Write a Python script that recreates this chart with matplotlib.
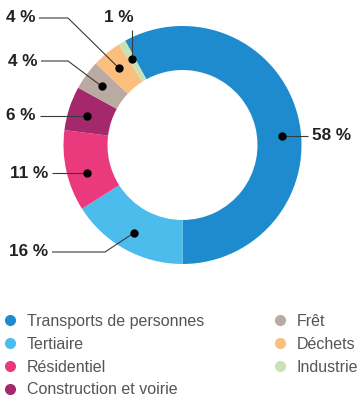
import numpy as np
import matplotlib

matplotlib.use("Agg")

from matplotlib import pyplot as plt
from matplotlib.lines import Line2D

categories = [
    "Transports de personnes",
    "Tertiaire",
    "Résidentiel",
    "Construction et voirie",
    "Frêt",
    "Déchets",
    "Industrie",
]
shares = [58, 16, 11, 6, 4, 4, 1]
pct_labels = ["58 %", "16 %", "11 %", "6 %", "4 %", "4 %", "1 %"]
colors = ["#1f8bcf", "#4bbcec", "#ea3a7d", "#a5276c", "#b9aba1", "#fbbe7d", "#c8e2b6"]

FONT = ["Liberation Sans", "DejaVu Sans"]
W, H = 360, 405
CX, CY = 182.5, 145  # donut centre in pixels, measured from the top
R_OUT, RING = 119, 44
R_DOT = 100

# leader style, line end x, line end y (pixels from top), knee x
label_layout = [
    ("h", 308, 136, None),
    ("knee", 52, 252, 105),
    ("h", 52, 173, None),
    ("h", 40, 116, None),
    ("knee", 41, 61, 68),
    ("knee", 39, 18, 68),
    ("v", None, 30, None),
]


def main() -> None:
    fig = plt.figure(figsize=(W / 100, H / 100), dpi=100)
    ax = fig.add_axes([0, 0, 1, 1])
    cy = H - CY

    wedges, _ = ax.pie(
        shares,
        colors=colors,
        startangle=-90 + 360 * shares[0] / sum(shares),
        counterclock=False,
        radius=R_OUT,
        center=(CX, cy),
        wedgeprops=dict(width=RING, linewidth=0),
        frame=False,
    )
    ax.set_xlim(0, W)
    ax.set_ylim(0, H)
    ax.set_aspect("auto")
    ax.axis("off")

    for wedge, label, (style, ex, ey, kx) in zip(wedges, pct_labels, label_layout):
        ey = H - ey
        mid = np.deg2rad((wedge.theta1 + wedge.theta2) / 2)
        if style == "h":
            dy = ey - cy
            side = 1 if ex > CX else -1
            dot = (CX + side * np.sqrt(R_DOT**2 - dy**2), ey)
            path = [dot, (ex, ey)]
        else:
            dot = (CX + R_DOT * np.cos(mid), cy + R_DOT * np.sin(mid))
            if style == "v":
                ex = dot[0]
                path = [dot, (ex, ey)]
            else:
                path = [dot, (kx, ey), (ex, ey)]
        xs, ys = zip(*path)
        ax.plot(xs, ys, color="#3a3a3a", linewidth=0.8, solid_capstyle="butt")
        ax.plot(*dot, "o", color="black", markersize=5)

        if style == "v":
            tx, ty, ha = ex - 13, ey + 13, "center"
        elif ex > CX:
            tx, ty, ha = ex + 4, ey, "left"
        else:
            tx, ty, ha = ex - 4, ey, "right"
        ax.text(tx, ty, label, ha=ha, va="center", fontsize=12.3,
                fontweight="bold", color="#222222", family=FONT)

    handles = [
        Line2D([], [], linestyle="none", marker="o", markersize=8,
               markerfacecolor=c, markeredgewidth=0)
        for c in colors
    ]
    ax.legend(
        handles,
        categories,
        loc="upper left",
        bbox_to_anchor=(3.6 / W, 1 - 314 / H),
        ncol=2,
        frameon=False,
        prop=dict(family=FONT, size=11.5),
        labelcolor="#555555",
        handlelength=0.8,
        handletextpad=0.66,
        labelspacing=0.49,
        columnspacing=4.35,
        borderpad=0,
        borderaxespad=0,
    )

    fig.savefig("out.png", dpi=100)
    plt.close(fig)


if __name__ == "__main__":
    main()
